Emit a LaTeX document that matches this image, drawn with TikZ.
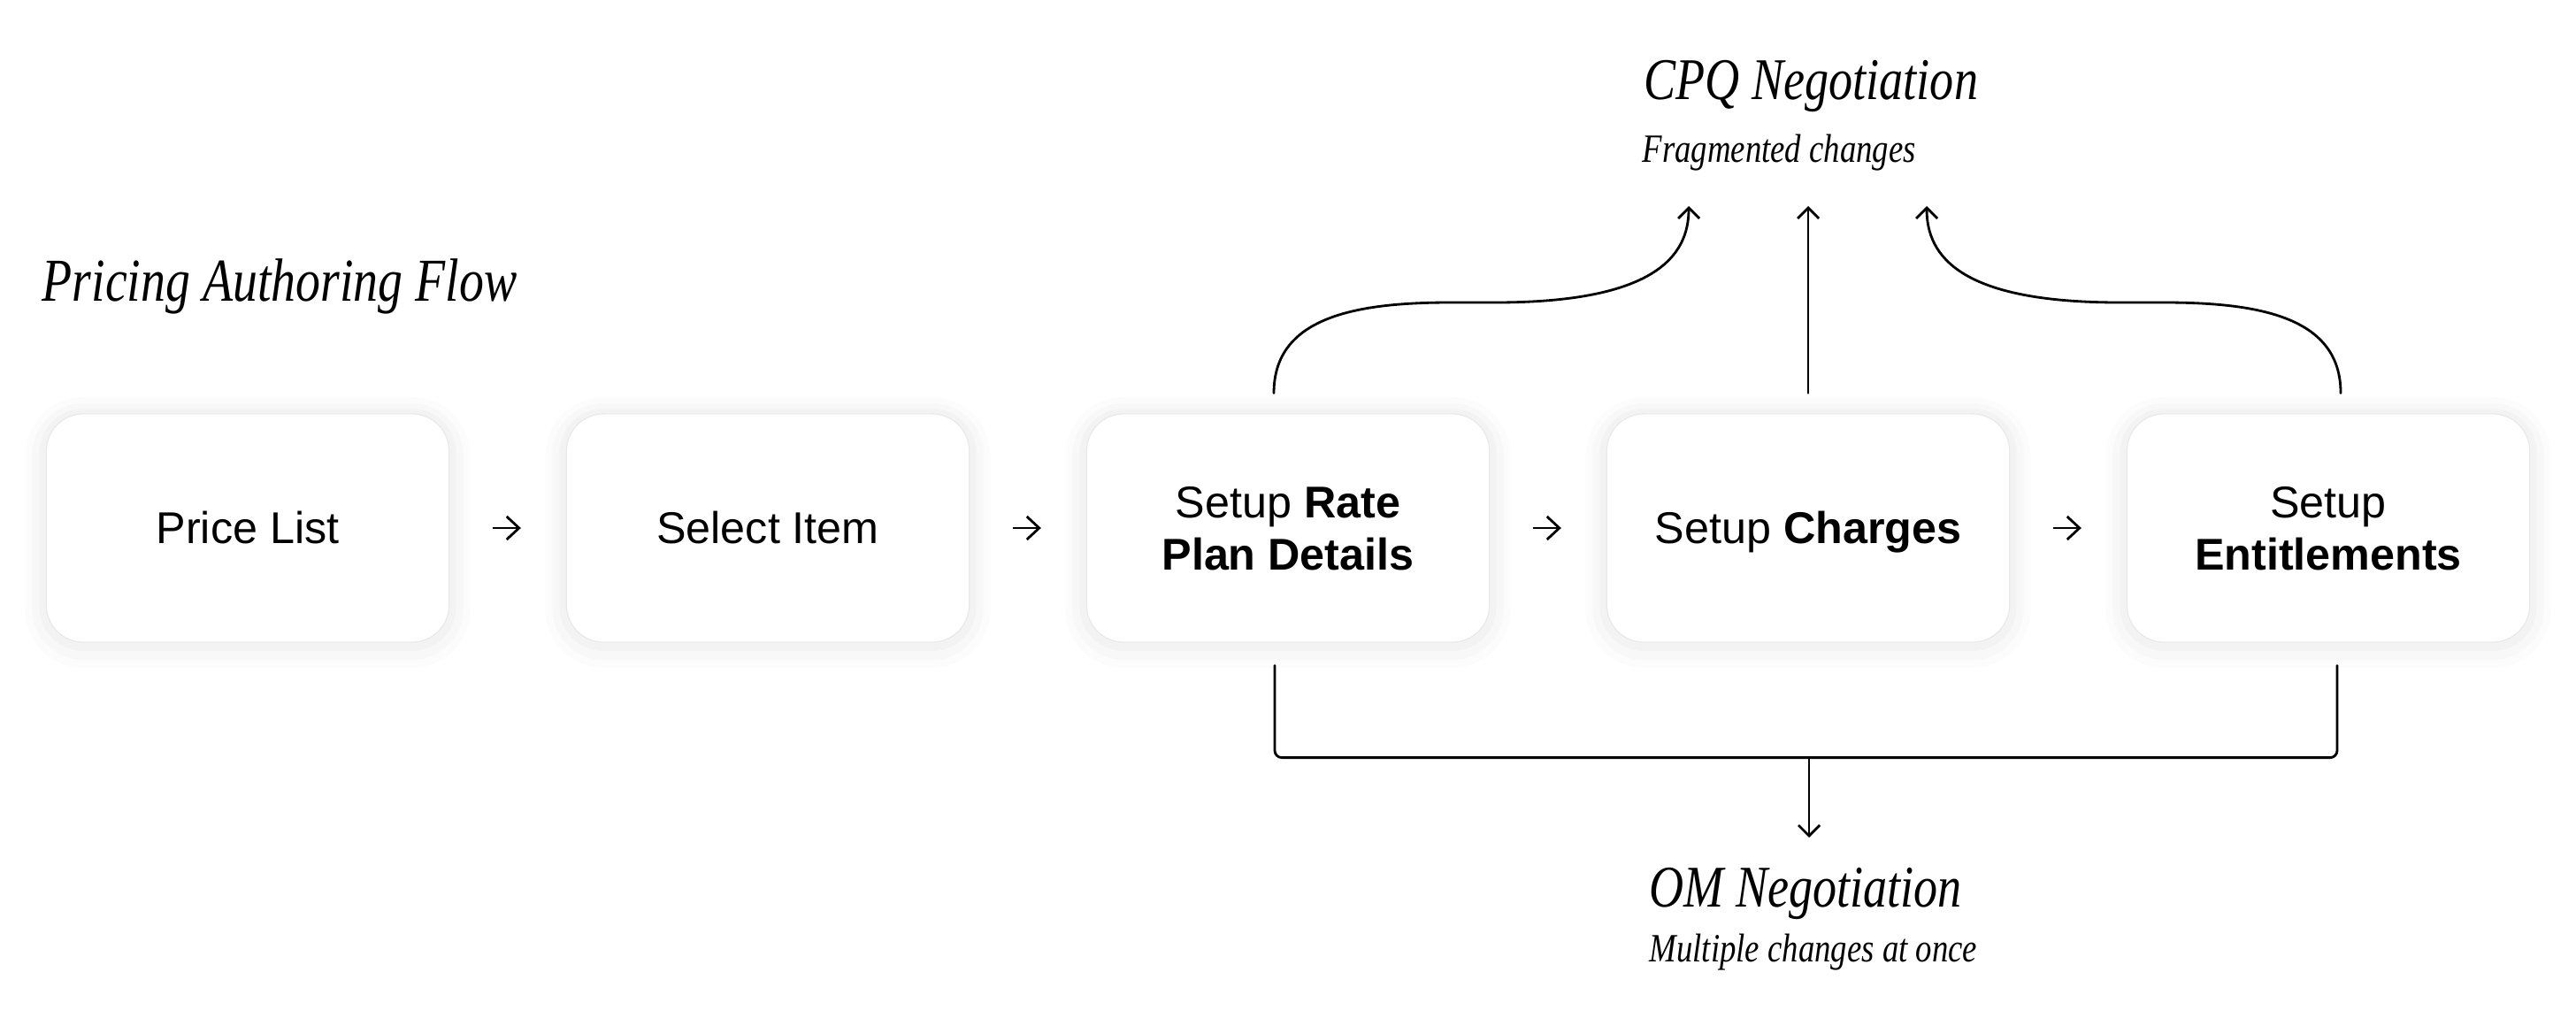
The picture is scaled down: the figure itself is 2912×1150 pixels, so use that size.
\documentclass[tikz,border=0pt]{standalone}
\usepackage{fontspec}
\setmainfont{Liberation Sans}
\newfontfamily\displayserif{Liberation Serif}[FakeStretch=0.81]
\usetikzlibrary{calc}
\usetikzlibrary{arrows.meta}

\begin{document}
\begin{tikzpicture}[x=0.01cm, y=0.01cm,
	card/.style={rectangle, rounded corners=0.42cm, minimum width=4.55cm, minimum height=2.58cm,
		fill=white, draw=black!9, line width=0.3pt, align=center,
		font=\fontsize{14.3}{16.9}\selectfont,
		preaction={draw=black, opacity=0.012, line width=0.48cm, transform canvas={yshift=-0.05cm}},
		preaction={draw=black, opacity=0.015, line width=0.32cm, transform canvas={yshift=-0.04cm}},
		preaction={draw=black, opacity=0.02, line width=0.16cm, transform canvas={yshift=-0.02cm}}},
	headline/.style={font=\displayserif\itshape\fontsize{19}{23}\selectfont, anchor=base west, inner sep=0pt},
	titleline/.style={headline, font=\displayserif\itshape\fontsize{19.6}{24}\selectfont},
	subline/.style={font=\displayserif\itshape\fontsize{12.9}{15}\selectfont, anchor=base west, inner sep=0pt},
	stepper/.style={line width=0.8pt, -{Straight Barb[length=0.14cm, width=0.26cm]},
		shorten <=0.49cm, shorten >=0.51cm},
	link/.style={line width=0.8pt, line cap=round, line join=round},
	linkarrow/.style={link, -{Straight Barb[length=0.12cm, width=0.24cm]}}]
	\fill[white] (0, 0) rectangle (2912, 1150);
	\useasboundingbox (0, 0) rectangle (2912, 1150);
	\node[titleline] (title) at (47, 810) {Pricing Authoring Flow};
	\foreach \n/\t/\x in {price/{Price List}/280, item/{Select Item}/868,
		rate/{Setup \textbf{Rate}\\\textbf{Plan Details}}/1456,
		charges/{Setup \textbf{Charges}}/2044,
		ent/{Setup\\\textbf{Entitlements}}/2632}
		\node[card] (\n) at (\x, 553) {\rule{0pt}{13.4pt}\t\rule[-3.2pt]{0pt}{3.2pt}};
	\foreach \a/\b in {price/item, item/rate, rate/charges, charges/ent}
		\draw[stepper] (\a) -- (\b);
	\node[headline] (cpq) at (1858, 1038) {CPQ Negotiation};
	\node[subline] (cpqnote) at (1856, 967) {Fragmented changes};
	\coordinate (cpqL) at (1909, 917);
	\coordinate (cpqM) at (2044, 917);
	\coordinate (cpqR) at (2178, 917);
	\draw[linkarrow] ($(rate.north)+(-16, 23)$)
		.. controls +(0, 85) and +(-110, 0) .. (1640, 808) -- (1690, 808)
		.. controls +(180, 0) and +(0, -57) .. (cpqL);
	\draw[linkarrow] ($(charges.north)+(0, 23)$) -- (cpqM);
	\draw[linkarrow] ($(ent.north)+(14, 23)$)
		.. controls +(0, 85) and +(110, 0) .. (2446, 808) -- (2396, 808)
		.. controls +(-180, 0) and +(0, -57) .. (cpqR);
	\coordinate (omtip) at (2045, 203);
	\draw[link, rounded corners=0.08cm] ($(rate.south)+(-15, -26)$) |- ($(charges.south)+(1, -130)$)
		-| ($(ent.south)+(10, -26)$);
	\draw[linkarrow] ($(charges.south)+(1, -130)$) -- (omtip);
	\node[headline] (om) at (1864, 125) {OM Negotiation};
	\node[subline] (omnote) at (1864, 63) {Multiple changes at once};
\end{tikzpicture}
\end{document}
